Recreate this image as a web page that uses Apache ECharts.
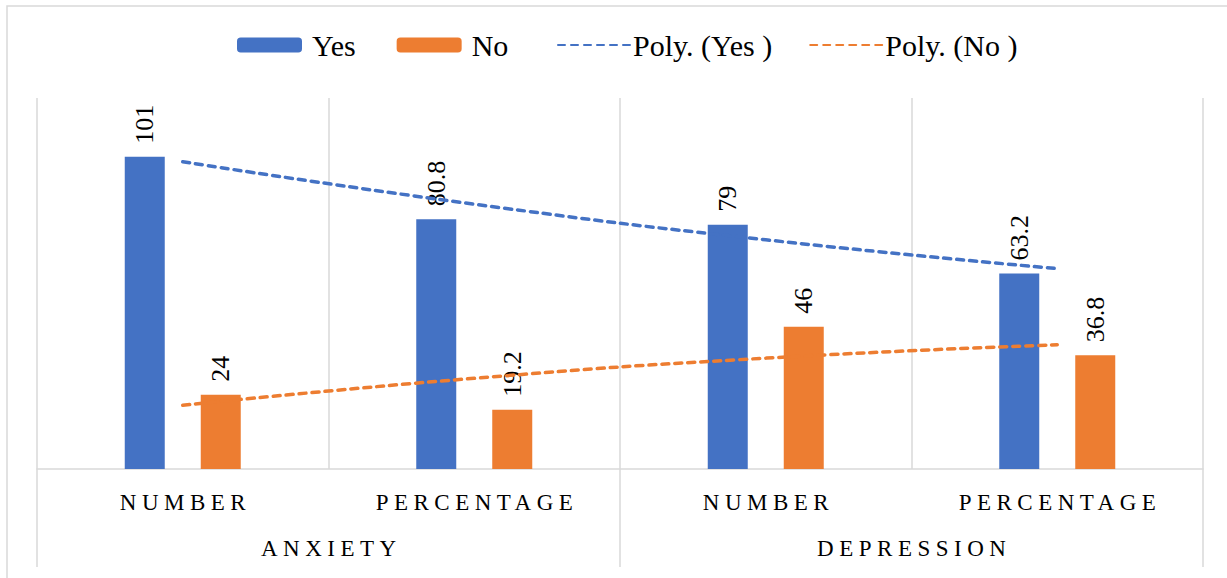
<!DOCTYPE html>
<html>
<head>
<meta charset="utf-8">
<script src="https://cdn.jsdelivr.net/npm/echarts@6/dist/echarts.min.js"></script>
<style>
html,body{margin:0;padding:0;background:#fff;}
#chart{width:1227px;height:578px;}
</style>
</head>
<body>
<div id="chart"></div>
<script>
const categories = ['NUMBER', 'PERCENTAGE', 'NUMBER', 'PERCENTAGE'];
const groups = ['ANXIETY', 'DEPRESSION'];
const yesValues = [101, 80.8, 79, 63.2];
const noValues = [24, 19.2, 46, 36.8];
const seriesNames = ['Yes', 'No', 'Poly. (Yes )', 'Poly. (No )'];
const yMin = 0, yMax = 120;

// Excel-style polynomial (order 2) trendline, least squares on x = 1..n
function polyFit2(ys) {
  const n = ys.length;
  let s = [0,0,0,0,0], t = [0,0,0];
  for (let i = 0; i < n; i++) {
    const x = i + 1;
    for (let k = 0; k < 5; k++) s[k] += Math.pow(x, k);
    for (let k = 0; k < 3; k++) t[k] += ys[i] * Math.pow(x, k);
  }
  const M = [[s[0], s[1], s[2]], [s[1], s[2], s[3]], [s[2], s[3], s[4]]];
  const det = m => m[0][0]*(m[1][1]*m[2][2]-m[1][2]*m[2][1]) - m[0][1]*(m[1][0]*m[2][2]-m[1][2]*m[2][0]) + m[0][2]*(m[1][0]*m[2][1]-m[1][1]*m[2][0]);
  const D = det(M);
  const coef = [0,1,2].map(c => det(M.map((row, r) => row.map((v, j) => j === c ? t[r] : v))) / D);
  return ys.map((_, i) => { const x = i + 1; return coef[0] + coef[1]*x + coef[2]*x*x; });
}
const yesTrend = polyFit2(yesValues);
const noTrend = polyFit2(noValues);

const BLUE = '#4472C4', ORANGE = '#ED7D31', GRID = '#d9d9d9';
const FONT = "'Liberation Serif', 'Times New Roman', serif";

const chart = echarts.init(document.getElementById('chart'), null, {renderer: 'svg'});
const barLabel = {
  show: true, position: 'top', rotate: 90, align: 'left', verticalAlign: 'middle',
  distance: 13, color: '#000', fontFamily: FONT, fontSize: 26
};
const option = {
  animation: false,
  backgroundColor: '#fff',
  graphic: [{
    type: 'rect', shape: {x: 7, y: 6, width: 1400, height: 800},
    style: {fill: 'none', stroke: GRID, lineWidth: 1.5}, silent: true, z: -10
  }],
  legend: [{
    data: [seriesNames[0], seriesNames[1]],
    left: 232, top: 25, itemWidth: 65, itemHeight: 15, itemGap: 41,
    textStyle: {fontFamily: FONT, fontSize: 30, color: '#000', padding: [0, 0, 0, 5]}
  }, {
    data: [seriesNames[2], seriesNames[3]],
    left: 552, top: 25, itemWidth: 73, itemHeight: 15, itemGap: 37,
    itemStyle: {opacity: 0},
    textStyle: {fontFamily: FONT, fontSize: 30, color: '#000', padding: [0, 0, 0, -3]}
  }],
  grid: {left: 37, right: 24, top: 98, bottom: 109, containLabel: false},
  xAxis: [{
    type: 'category', data: categories, position: 'bottom',
    axisLine: {show: true, lineStyle: {color: GRID, width: 1.5}},
    axisTick: {show: false},
    splitLine: {show: true, lineStyle: {color: GRID, width: 1.5}},
    axisLabel: {margin: 22, color: '#000', fontFamily: FONT, fontSize: 23, interval: 0}
  }, {
    type: 'category', data: groups, position: 'bottom',
    axisLine: {show: false},
    axisTick: {show: true, length: 98, lineStyle: {color: GRID, width: 1.5}},
    splitLine: {show: false},
    axisLabel: {margin: 68, color: '#000', fontFamily: FONT, fontSize: 23, interval: 0}
  }],
  yAxis: {type: 'value', min: yMin, max: yMax, show: false, splitLine: {show: false}},
  series: [{
    name: seriesNames[0], type: 'bar', data: yesValues, barWidth: 40, barGap: '90%',
    itemStyle: {color: BLUE}, label: barLabel
  }, {
    name: seriesNames[1], type: 'bar', data: noValues, barWidth: 40, barGap: '90%',
    itemStyle: {color: ORANGE}, label: barLabel
  }, {
    name: seriesNames[2], type: 'line', data: yesTrend, smooth: true, symbol: 'none',
    itemStyle: {color: BLUE},
    lineStyle: {color: BLUE, width: 3.5, type: [7, 6], cap: 'round'}, z: 5
  }, {
    name: seriesNames[3], type: 'line', data: noTrend, smooth: true, symbol: 'none',
    itemStyle: {color: ORANGE},
    lineStyle: {color: ORANGE, width: 3.5, type: [7, 6], cap: 'round'}, z: 5
  }]
};
chart.setOption(option);

const spaced = new Set(categories.concat(groups));
function applySpacing() {
  document.querySelectorAll('#chart svg text').forEach(t => {
    if (spaced.has(t.textContent.trim())) {
      t.setAttribute('letter-spacing', '5.5');
      if (!t.dataset.shifted) {
        t.dataset.shifted = '1';
        t.setAttribute('dx', '2.75');
      }
    }
  });
}
chart.on('finished', applySpacing);
applySpacing();
</script>
</body>
</html>
